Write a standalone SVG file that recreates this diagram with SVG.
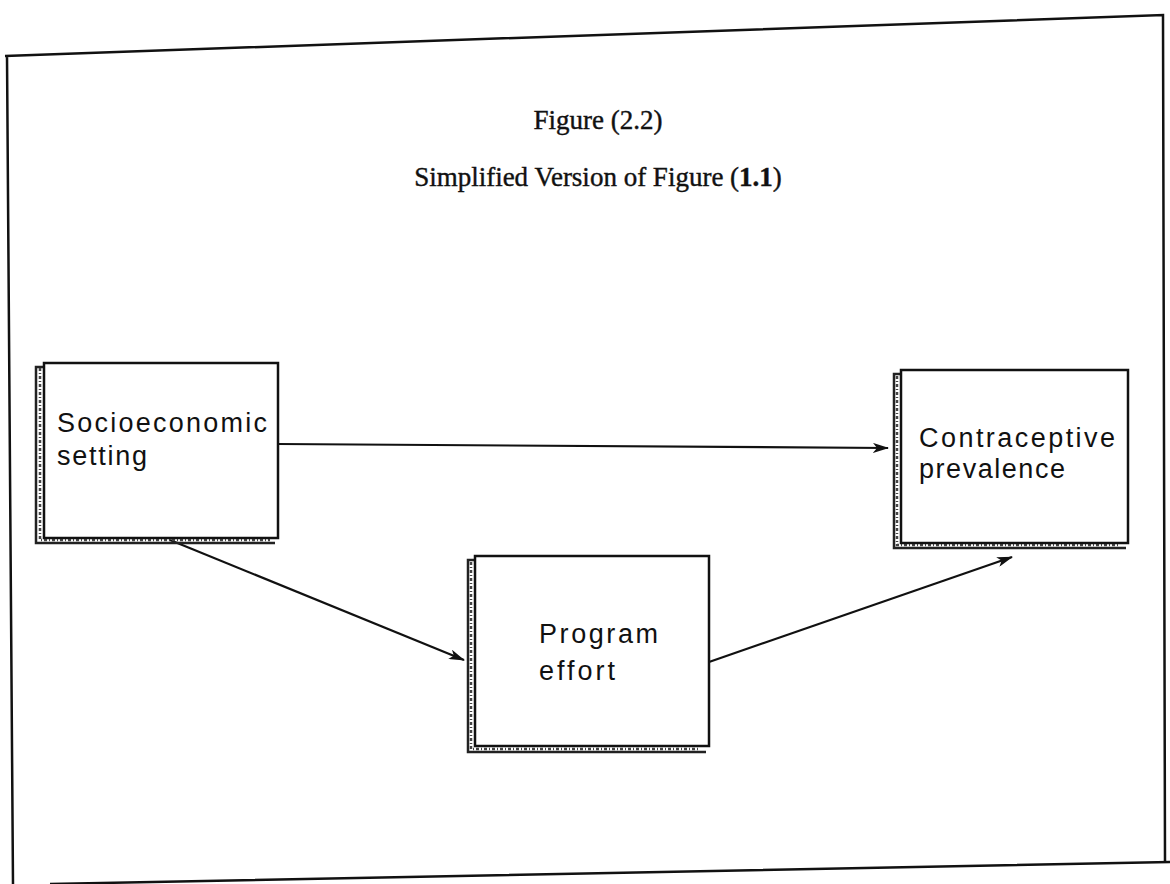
<svg xmlns="http://www.w3.org/2000/svg" width="1170" height="884" viewBox="0 0 1170 884">
  <defs>
    <marker id="arrow" viewBox="0 0 16 10" refX="15" refY="5" markerWidth="16" markerHeight="10" markerUnits="userSpaceOnUse" orient="auto">
      <path d="M0,0 L16,5 L0,10 L4,5 Z" fill="#111"/>
    </marker>
  </defs>
  <style>
    .frame { fill: none; stroke: #111; stroke-width: 2.5; }
    .box { fill: #fff; stroke: #111; stroke-width: 2.5; }
    .shadow { fill: none; stroke: #222; stroke-width: 2.5; }
    .shadow-rough { fill: none; stroke: #444; stroke-width: 2.5; stroke-dasharray: 3 2 1 2; }
    .conn { fill: none; stroke: #111; stroke-width: 2.2; }
    .title { font-family: "Liberation Serif", "Times New Roman", serif; font-size: 27px; fill: #111; stroke: #111; stroke-width: 0.4; text-anchor: middle; }
    .label { font-family: "Liberation Sans", Arial, sans-serif; font-size: 27px; fill: #111; }
  </style>
  <rect x="0" y="0" width="1170" height="884" fill="#fff"/>

  <g id="frame">
    <path class="frame" d="M5,56 L1163,15 L1165,862 M7,56 L13,884 M50,884 L1170,862"/>
  </g>

  <g id="title">
    <text class="title" x="598" y="129">Figure (2.2)</text>
    <text class="title" x="598" y="186">Simplified Version of Figure (<tspan font-weight="bold">1.1</tspan>)</text>
  </g>

  <g id="connectors">
    <line class="conn" x1="278" y1="444" x2="888" y2="448" marker-end="url(#arrow)"/>
    <line class="conn" x1="170" y1="540" x2="464" y2="660" marker-end="url(#arrow)"/>
    <line class="conn" x1="709" y1="662" x2="1012" y2="557" marker-end="url(#arrow)"/>
  </g>

  <g id="node-socioeconomic">
    <path class="shadow" d="M44,367 L36,367 L36,543 L275,543"/>
    <path class="shadow-rough" d="M40,368 L40,540 L270,540"/>
    <rect class="box" x="44" y="363" width="234" height="175"/>
    <text class="label" x="57" y="432" textLength="210" lengthAdjust="spacing">Socioeconomic</text>
    <text class="label" x="57" y="465" textLength="90" lengthAdjust="spacing">setting</text>
  </g>

  <g id="node-contraceptive">
    <path class="shadow" d="M901,374 L894,374 L894,548 L1126,548"/>
    <path class="shadow-rough" d="M897,376 L897,545 L1120,545"/>
    <rect class="box" x="901" y="370" width="227" height="173"/>
    <text class="label" x="919" y="447" textLength="196" lengthAdjust="spacing">Contraceptive</text>
    <text class="label" x="919" y="478" textLength="146" lengthAdjust="spacing">prevalence</text>
  </g>

  <g id="node-program">
    <path class="shadow" d="M475,560 L468,560 L468,752 L706,752"/>
    <path class="shadow-rough" d="M471,562 L471,749 L700,749"/>
    <rect class="box" x="475" y="556" width="234" height="190"/>
    <text class="label" x="539" y="643" textLength="119" lengthAdjust="spacing">Program</text>
    <text class="label" x="539" y="680" textLength="76" lengthAdjust="spacing">effort</text>
  </g>
</svg>
